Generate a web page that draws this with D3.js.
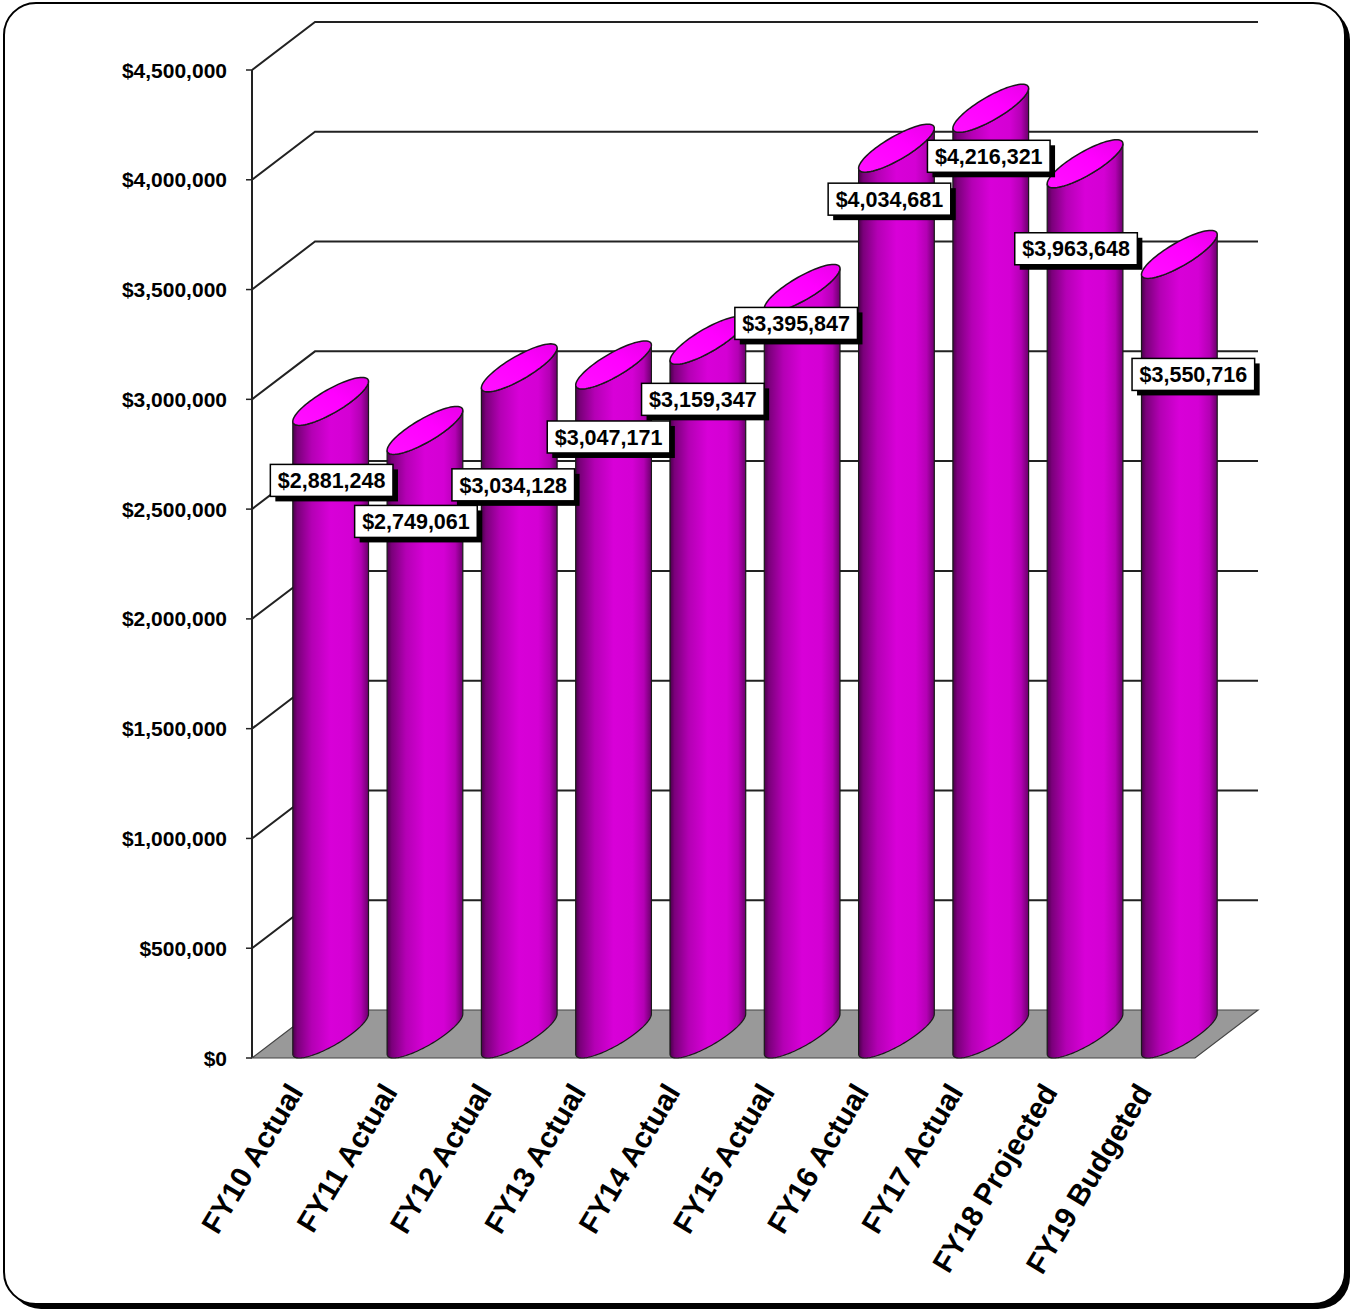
<!DOCTYPE html>
<html>
<head>
<meta charset="utf-8">
<script src="https://cdn.jsdelivr.net/npm/d3@7"></script>
<style>
  html, body { margin: 0; padding: 0; background: #ffffff; }
  svg { display: block; }
  text { font-family: "Liberation Sans", Arial, sans-serif; font-weight: bold; }
</style>
</head>
<body>
<svg id="chart" width="1355" height="1311"></svg>
<script>
// ---- data ----
const categories = ["FY10 Actual", "FY11 Actual", "FY12 Actual", "FY13 Actual", "FY14 Actual",
                    "FY15 Actual", "FY16 Actual", "FY17 Actual", "FY18 Projected", "FY19 Budgeted"];
const values = [2881248, 2749061, 3034128, 3047171, 3159347, 3395847, 4034681, 4216321, 3963648, 3550716];
const yTicks = [0, 500000, 1000000, 1500000, 2000000, 2500000, 3000000, 3500000, 4000000, 4500000];
// manual label nudges (pixels) relative to bar top, as placed in the original
const labelNudgeX = [1, -9, -6, -5, -5, -6, -7, -2, -9, 14];
const labelNudgeY = [55, 67, 93, 48, 35, 11, 27, 24, 61, 96];

// ---- layout ----
const svg = d3.select("#chart");
const defs = svg.append("defs");

const plotLeft = 252, plotRight = 1195, plotBottom = 1058, plotTop = 70;
const depth = { x: 63, y: -48 };

const x = d3.scaleBand().domain(categories).range([plotLeft, plotRight]).paddingInner(0).paddingOuter(0);
const y = d3.scaleLinear().domain([0, 4500000]).range([plotBottom, plotTop]);

// frame
svg.append("rect").attr("x", 9).attr("y", 8).attr("width", 1341).attr("height", 1301)
  .attr("rx", 32).attr("ry", 32).attr("fill", "#000");
svg.append("rect").attr("x", 4).attr("y", 3).attr("width", 1341).attr("height", 1301)
  .attr("rx", 32).attr("ry", 32).attr("fill", "#fff").attr("stroke", "#000").attr("stroke-width", 2);

const gridColor = "#222";

// back wall gridlines + side wall diagonals
const g = svg.append("g");
yTicks.forEach(v => {
  const yy = y(v);
  if (v > 0) {
    g.append("path")
      .attr("d", `M${plotLeft},${yy} L${plotLeft + depth.x},${yy + depth.y} L${plotRight + depth.x},${yy + depth.y}`)
      .attr("fill", "none").attr("stroke", gridColor).attr("stroke-width", 2);
  }
  g.append("line").attr("x1", plotLeft - 6).attr("x2", plotLeft).attr("y1", yy).attr("y2", yy)
    .attr("stroke", gridColor).attr("stroke-width", 1.5);
  g.append("text").attr("x", 227).attr("y", yy).attr("dy", "0.36em")
    .attr("text-anchor", "end").attr("font-size", 21).attr("fill", "#000")
    .text(d3.format("$,")(v));
});
g.append("line").attr("x1", plotLeft).attr("x2", plotLeft).attr("y1", y(4500000)).attr("y2", plotBottom)
  .attr("stroke", gridColor).attr("stroke-width", 2);

// floor
const fy = y(0);
g.append("path")
  .attr("d", `M${plotLeft},${fy} L${plotRight},${fy} L${plotRight + depth.x},${fy + depth.y} L${plotLeft + depth.x},${fy + depth.y} Z`)
  .attr("fill", "#999999").attr("stroke", "#444").attr("stroke-width", 1.2);

// gradients
const bodyGrad = defs.append("linearGradient").attr("id", "body").attr("x1", 0).attr("x2", 1).attr("y1", 0).attr("y2", 0);
[[0, "#4a004a"], [0.06, "#7a007a"], [0.25, "#b400b4"], [0.5, "#d800d8"], [0.75, "#d400d4"], [0.9, "#b400b4"], [1, "#6a006a"]]
  .forEach(([o, c]) => bodyGrad.append("stop").attr("offset", o).attr("stop-color", c));
const topGrad = defs.append("linearGradient").attr("id", "top").attr("x1", 0).attr("x2", 1).attr("y1", 1).attr("y2", 0);
[[0, "#ff10ff"], [0.6, "#ff00ff"], [1, "#e800e8"]]
  .forEach(([o, c]) => topGrad.append("stop").attr("offset", o).attr("stop-color", c));

// cylinder geometry
const a = 21;
const p = depth.x / 2, q = -depth.y / 2;
const tR = Math.atan2(p, a);
const tL = tR + Math.PI;
function ept(cx, cy, t) { return [cx + a * Math.cos(t) + p * Math.sin(t), cy - q * Math.sin(t)]; }
function arc(cx, cy, t0, t1, n) {
  const pts = [];
  for (let i = 0; i <= n; i++) pts.push(ept(cx, cy, t0 + (t1 - t0) * i / n));
  return pts;
}
const line = d3.line();

const bars = svg.append("g");
categories.forEach((c, i) => {
  const v = values[i];
  const cx = x(c) + x.bandwidth() / 2 + p;
  const cyT = y(v) + depth.y / 2;
  const cyB = y(0) + depth.y / 2;
  const bottomFront = arc(cx, cyB, tL, tR + 2 * Math.PI, 60);
  const topFrontRev = arc(cx, cyT, tR + 2 * Math.PI, tL, 60);
  const bodyPts = [ept(cx, cyT, tL)].concat(bottomFront).concat(topFrontRev);
  bars.append("path").attr("d", line(bodyPts) + "Z")
    .attr("fill", "url(#body)").attr("stroke", "#1a1a1a").attr("stroke-width", 1.2);
  const topPts = arc(cx, cyT, 0, 2 * Math.PI, 80);
  bars.append("path").attr("d", line(topPts) + "Z")
    .attr("fill", "url(#top)").attr("stroke", "#1a1a1a").attr("stroke-width", 1.5);
});

// data labels
const labels = svg.append("g");
categories.forEach((c, i) => {
  const v = values[i];
  const cx = x(c) + x.bandwidth() / 2 + p + labelNudgeX[i];
  const cy = y(v) + labelNudgeY[i];
  const lg = labels.append("g");
  const shadow = lg.append("rect").attr("fill", "#000");
  const box = lg.append("rect").attr("fill", "#fff").attr("stroke", "#000").attr("stroke-width", 1.5);
  const t = lg.append("text").attr("x", cx).attr("y", cy).attr("dy", "0.36em")
    .attr("text-anchor", "middle").attr("font-size", 21.5).attr("fill", "#000")
    .text(d3.format("$,")(v));
  const tw = t.node().getComputedTextLength();
  const bw = tw + 15, bh = 32;
  box.attr("x", cx - bw / 2).attr("y", cy - bh / 2).attr("width", bw).attr("height", bh);
  shadow.attr("x", cx - bw / 2 + 5).attr("y", cy - bh / 2 + 5).attr("width", bw).attr("height", bh);
});

// category labels
const xl = svg.append("g");
categories.forEach((c) => {
  const ex = x(c) + x.bandwidth() / 2 + 5;
  const ey = 1092;
  xl.append("text").attr("transform", `translate(${ex},${ey}) rotate(-59)`)
    .attr("text-anchor", "end").attr("font-size", 29.5).attr("fill", "#000").text(c);
});
</script>
</body>
</html>
